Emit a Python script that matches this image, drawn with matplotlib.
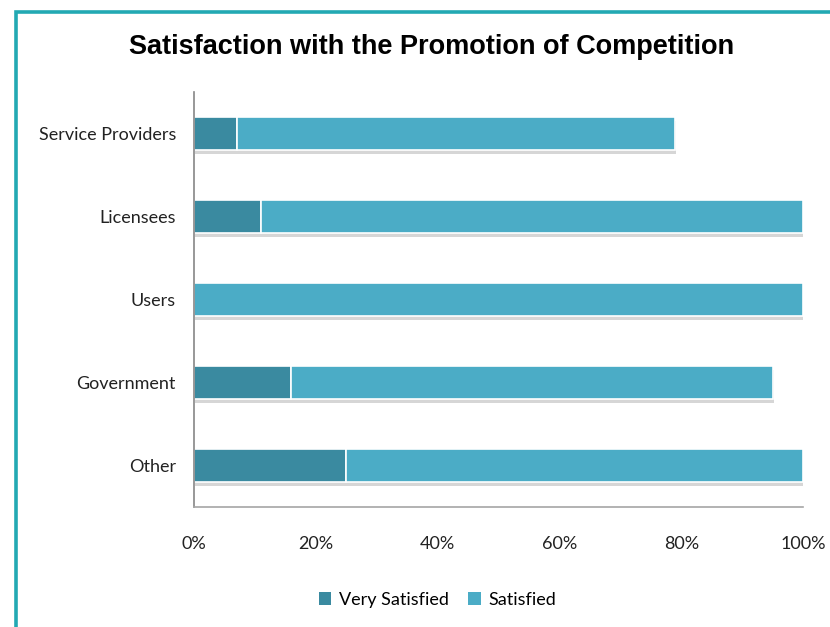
import matplotlib
matplotlib.use("Agg")
import matplotlib.pyplot as plt
import matplotlib.patheffects as pe
from matplotlib.patches import Rectangle
from matplotlib.ticker import PercentFormatter

# survey shares per respondent group (percent)
groups = ["Service Providers", "Licensees", "Users", "Government", "Other"]
very_satisfied = [7, 11, 0, 16, 25]
satisfied = [72, 89, 100, 79, 75]
ticks = [0, 20, 40, 60, 80, 100]

c_very = "#3A8AA0"
c_sat = "#4BACC6"
lab_font = "Lato"

fig = plt.figure(figsize=(8.3, 6.27), dpi=100)
fig.patch.set_facecolor("white")

# teal frame running off the right and bottom edges
fig.patches.append(Rectangle((16 / 830, -0.05), 1.2, 1 - 12 / 627 + 0.05,
                             transform=fig.transFigure, fill=False,
                             edgecolor="#22A9B3", linewidth=2.6, zorder=0))

ax = fig.add_axes([194 / 830, (627 - 507) / 627, (803 - 194) / 830, (507 - 92) / 627])

ypos = range(len(groups))
shadow = [pe.SimplePatchShadow(offset=(1, -3), shadow_rgbFace="#8c8c8c", alpha=0.35), pe.Normal()]
b1 = ax.barh(ypos, very_satisfied, height=0.4, color=c_very, edgecolor="white",
             linewidth=1.2, label="Very Satisfied")
b2 = ax.barh(ypos, satisfied, left=very_satisfied, height=0.4, color=c_sat,
             edgecolor="white", linewidth=1.2, label="Satisfied")
for bar in list(b1) + list(b2):
    if bar.get_width() > 0:
        bar.set_path_effects(shadow)

ax.set_ylim(len(groups) - 0.5, -0.5)
ax.set_xlim(0, 100)
ax.set_yticks(list(ypos))
ax.set_yticklabels(groups, fontsize=13, family=lab_font, color="#222222")
ax.set_xticks(ticks)
ax.xaxis.set_major_formatter(PercentFormatter(decimals=0))
for lab in ax.get_xticklabels():
    lab.set_fontsize(13)
    lab.set_family(lab_font)
    lab.set_color("#222222")
ax.tick_params(axis="y", length=0, pad=13)
ax.tick_params(axis="x", length=0, pad=21)

for s in ["top", "right"]:
    ax.spines[s].set_visible(False)
ax.spines["left"].set_color("#868686")
ax.spines["bottom"].set_color("#A6A6A6")
ax.spines["left"].set_linewidth(1.2)
ax.spines["bottom"].set_linewidth(1.2)

fig.text(0.52, 0.925, "Satisfaction with the Promotion of Competition",
         ha="center", va="center", fontsize=19.5, fontweight="bold",
         family="Liberation Sans", color="black")

leg = fig.legend(handles=[b1, b2], labels=["Very Satisfied", "Satisfied"],
                 loc="center", bbox_to_anchor=(0.527, 0.043), ncol=2, frameon=False,
                 prop={"family": lab_font, "size": 13}, handlelength=0.7,
                 handleheight=0.7, handletextpad=0.4, columnspacing=1.1)
for h in leg.legend_handles:
    h.set_path_effects([])
    h.set_edgecolor("none")

fig.savefig("out.png", dpi=100)
